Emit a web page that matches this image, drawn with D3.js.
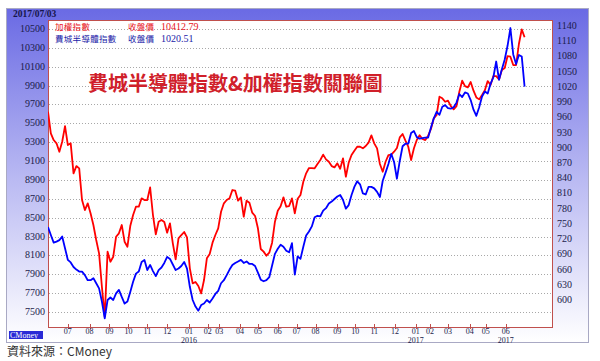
<!DOCTYPE html>
<html>
<head>
<meta charset="utf-8">
<script src="https://cdn.jsdelivr.net/npm/d3@7"></script>
<style>
	body { margin: 0; background: #fff; }
</style>
</head>
<body>
<div id="chart-area"></div>
<script>

// trading-day index of each sample (one sample every 3 trading days from 2015/06/01)
const sampleStep = 3;

// 加權指數 closing values
const taiex = [9623, 9394, 9323, 9288, 9199, 9305, 9471, 9270, 9288, 8970,
	9047, 9023, 8687, 8581, 8652, 8546, 8422, 8263, 8122, 7768,
	7450, 8139, 8033, 8086, 8298, 8334, 8422, 8245, 8192, 8411,
	8528, 8616, 8616, 8705, 8687, 8687, 8821, 8528, 8323, 8457,
	8475, 8454, 8341, 8440, 8228, 8058, 8281, 8316, 8348, 8291,
	7963, 7804, 7818, 7776, 7698, 7839, 8069, 8115, 8235, 8316,
	8387, 8563, 8652, 8687, 8705, 8793, 8786, 8680, 8715, 8510,
	8680, 8659, 8553, 8518, 8387, 8168, 8140, 8097, 8129, 8235,
	8457, 8574, 8620, 8715, 8616, 8623, 8705, 8546, 8701, 8740,
	8881, 8970, 9026, 9026, 9023, 9069, 9111, 9168, 9118, 9093,
	9047, 9033, 9076, 9019, 9129, 8934, 9083, 9164, 9210, 9252,
	9252, 9235, 9260, 9295, 9373, 9288, 9235, 9069, 8987, 9093,
	9164, 9168, 9199, 9238, 9351, 9387, 9316, 9252, 9111, 9235,
	9323, 9373, 9334, 9323, 9369, 9440, 9553, 9588, 9782, 9765,
	9729, 9740, 9683, 9648, 9683, 9835, 9952, 9895, 9881, 9938,
	9846, 9775, 9754, 9800, 9850, 9948, 9906, 10001, 10001, 9966,
	10065, 10086, 10213, 10206, 10118, 10118, 10341, 10496, 10412.79];

// 費城半導體指數 closing values
const sox = [744, 728, 713, 715, 718, 725, 702, 679, 674, 665,
	660, 656, 656, 649, 639, 639, 643, 633, 623, 597,
	564, 600, 605, 600, 613, 620, 606, 593, 597, 616,
	636, 652, 656, 675, 679, 659, 669, 657, 647, 659,
	664, 673, 685, 681, 670, 659, 662, 667, 675, 662,
	626, 600, 587, 579, 590, 593, 600, 595, 603, 612,
	618, 633, 639, 649, 660, 669, 673, 676, 679, 673,
	676, 671, 671, 667, 654, 640, 637, 639, 645, 668,
	691, 701, 709, 705, 697, 694, 712, 650, 686, 681,
	705, 727, 735, 745, 763, 766, 765, 776, 781, 790,
	794, 799, 804, 807, 797, 780, 787, 807, 823, 834,
	828, 810, 808, 823, 823, 820, 813, 803, 835, 851,
	868, 888, 872, 839, 874, 903, 908, 908, 929, 933,
	921, 918, 919, 920, 920, 940, 958, 971, 965, 981,
	984, 978, 977, 980, 989, 1006, 1000, 1009, 1007, 994,
	975, 963, 980, 1001, 1011, 1007, 1026, 1039, 1070, 1034,
	1055, 1074, 1101, 1136, 1084, 1065, 1083, 1080, 1020.51];

// month ticks (trading-day index of first day in month)
const monthDays = [21, 44, 65, 85, 105, 126, 149, 169, 181, 203, 222, 243,
	263, 283, 306, 325, 345, 367, 389, 404, 423, 446, 463, 484];
const monthLabels = ["07", "08", "09", "10", "11", "12", "01", "02", "03", "04", "05", "06",
	"07", "08", "09", "10", "11", "12", "01", "02", "03", "04", "05", "06"];
const yearDays = [149, 389, 484];
const yearLabels = ["2016", "2017", "2017"];

const leftTicks = [10500, 10300, 10100, 9900, 9700, 9500, 9300, 9100, 8900, 8700, 8500, 8300, 8100, 7900, 7700, 7500];
const rightTicks = [1140, 1110, 1080, 1050, 1020, 990, 960, 930, 900, 870, 840, 810, 780, 750, 720, 690, 660, 630, 600];

let width = 600,
	height = 361;

let plot = {left: 48, top: 20, right: 552, bottom: 327};

let svg = d3.select("#chart-area").append("svg")
	.attr("width", width)
	.attr("height", height);

// background gradient of the frame
let defs = svg.append("defs");
let grad = defs.append("linearGradient")
	.attr("id", "bg")
	.attr("x1", 0).attr("y1", 0)
	.attr("x2", 0).attr("y2", 1);
grad.append("stop").attr("offset", "0%").attr("stop-color", "#6a6ae4");
grad.append("stop").attr("offset", "50%").attr("stop-color", "#b8b8f2");
grad.append("stop").attr("offset", "100%").attr("stop-color", "#ffffff");

defs.append("clipPath").attr("id", "clip")
	.append("rect")
	.attr("x", plot.left).attr("y", plot.top)
	.attr("width", plot.right - plot.left)
	.attr("height", plot.bottom - plot.top);

svg.append("rect")
	.attr("x", 6.5).attr("y", 8.5)
	.attr("width", 582).attr("height", 334)
	.attr("fill", "url(#bg)")
	.attr("stroke", "#a9a9c4");

svg.append("rect")
	.attr("x", plot.left + 0.5).attr("y", plot.top + 0.5)
	.attr("width", plot.right - plot.left).attr("height", plot.bottom - plot.top)
	.attr("fill", "#fff")
	.attr("stroke", "#c0504d");

// scales
let x = d3.scaleLinear()
	.domain([0, 533])
	.range([plot.left, plot.right]);

let yLeft = d3.scaleLinear()
	.domain([7500, 10500])
	.range([312, 29]);

let yRight = d3.scaleLinear()
	.domain([600, 1140])
	.range([300, 26]);

// grid
svg.append("g").selectAll("line").data(leftTicks).enter()
	.append("line")
	.attr("x1", plot.left + 1).attr("x2", plot.right)
	.attr("y1", d => Math.round(yLeft(d)) + 0.5)
	.attr("y2", d => Math.round(yLeft(d)) + 0.5)
	.attr("stroke", "#a8a8a8")
	.attr("stroke-dasharray", "1,2");

// axes labels
let numFont = "'Liberation Serif', 'DejaVu Serif', serif";

svg.append("g").selectAll("text").data(leftTicks).enter()
	.append("text")
	.attr("x", 45)
	.attr("y", d => yLeft(d) + 3)
	.attr("text-anchor", "end")
	.style("font-family", numFont)
	.style("font-size", "10px")
	.attr("fill", "#1b1b4a")
	.text(d => d);

svg.append("g").selectAll("text").data(rightTicks).enter()
	.append("text")
	.attr("x", 557)
	.attr("y", d => yRight(d) + 3)
	.style("font-family", numFont)
	.style("font-size", "10px")
	.attr("fill", "#1b1b4a")
	.text(d => d);

// x axis ticks
svg.append("g").selectAll("line").data(monthDays).enter()
	.append("line")
	.attr("x1", d => Math.round(x(d)) + 0.5)
	.attr("x2", d => Math.round(x(d)) + 0.5)
	.attr("y1", plot.bottom - 3)
	.attr("y2", plot.bottom + 2)
	.attr("stroke", "#c0504d");

svg.append("g").selectAll("text").data(monthDays).enter()
	.append("text")
	.attr("x", d => x(d))
	.attr("y", 333.5)
	.attr("text-anchor", "middle")
	.style("font-family", numFont)
	.style("font-size", "8px")
	.attr("fill", "#1b1b4a")
	.text((d, i) => monthLabels[i]);

svg.append("g").selectAll("text").data(yearDays).enter()
	.append("text")
	.attr("x", d => x(d))
	.attr("y", 342.5)
	.attr("text-anchor", "middle")
	.style("font-family", numFont)
	.style("font-size", "8px")
	.attr("fill", "#1b1b4a")
	.text((d, i) => yearLabels[i]);

// lines
let taiexLine = d3.line()
	.x((d, i) => x(i * sampleStep))
	.y(d => yLeft(d));

let soxLine = d3.line()
	.x((d, i) => x(i * sampleStep))
	.y(d => yRight(d));

let lines = svg.append("g").attr("clip-path", "url(#clip)");

lines.append("path")
	.datum(taiex)
	.attr("d", taiexLine)
	.attr("fill", "none")
	.attr("stroke", "#ff0000")
	.attr("stroke-width", 1.8)
	.attr("stroke-linejoin", "round");

lines.append("path")
	.datum(sox)
	.attr("d", soxLine)
	.attr("fill", "none")
	.attr("stroke", "#0000ff")
	.attr("stroke-width", 1.8)
	.attr("stroke-linejoin", "round");

// date at the top
svg.append("text")
	.attr("x", 13).attr("y", 17)
	.style("font-family", numFont)
	.style("font-size", "9.5px")
	.style("font-weight", "bold")
	.attr("fill", "#16164a")
	.text("2017/07/03");

// legend
let cjk = "'Noto Sans CJK TC', 'Noto Sans', sans-serif";
let legend = [
	{name: "加權指數", value: taiex[taiex.length - 1].toFixed(2), color: "#e8141c"},
	{name: "費城半導體指數", value: sox[sox.length - 1].toFixed(2), color: "#1c1ca8"}
];

legend.forEach((l, i) => {
	let yy = 29.5 + i * 12.5;
	svg.append("text").attr("x", 55).attr("y", yy)
		.style("font-family", cjk).style("font-size", "8.5px")
		.style("letter-spacing", "0.3px")
		.attr("fill", l.color).text(l.name);
	svg.append("text").attr("x", 128).attr("y", yy)
		.style("font-family", cjk).style("font-size", "8.5px")
		.style("letter-spacing", "0.3px")
		.attr("fill", l.color).text("收盤價");
	svg.append("text").attr("x", 161).attr("y", yy)
		.style("font-family", numFont).style("font-size", "10px")
		.attr("fill", l.color).text(l.value);
});

// title
svg.append("text")
	.attr("x", 88).attr("y", 91)
	.style("font-family", cjk)
	.style("font-size", "20px")
	.style("font-weight", "bold")
	.attr("fill", "#d0202a")
	.text("費城半導體指數&加權指數關聯圖");

// CMoney badge
svg.append("rect")
	.attr("x", 9).attr("y", 331)
	.attr("width", 34).attr("height", 8)
	.attr("fill", "#2a2ad6");
svg.append("text")
	.attr("x", 10).attr("y", 338)
	.style("font-family", numFont)
	.style("font-size", "8px")
	.attr("fill", "#fff")
	.text("CMoney");

// source caption
svg.append("text")
	.attr("x", 7).attr("y", 356)
	.style("font-family", cjk)
	.style("font-size", "12px")
	.attr("fill", "#333")
	.text("資料來源：CMoney");

</script>
</body>
</html>
